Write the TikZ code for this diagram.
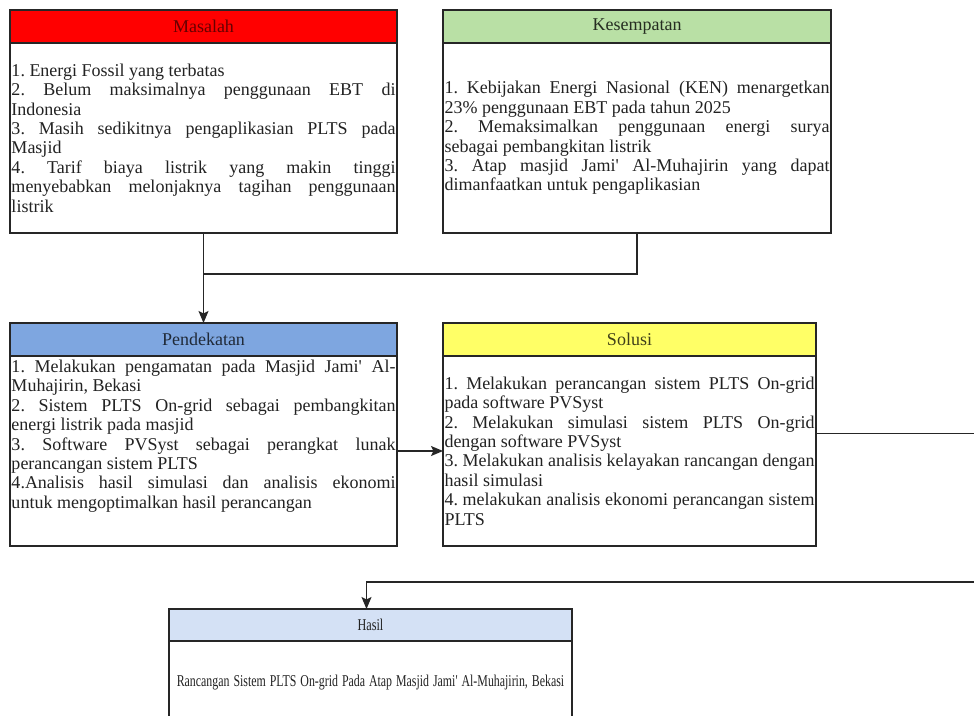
\documentclass[tikz,border=0pt]{standalone}
\usepackage{graphicx}
\usepackage{fontspec}
\setmainfont{Liberation Serif}
\usetikzlibrary{arrows.meta,positioning}
\definecolor{frame}{HTML}{262626}
\definecolor{bodyText}{HTML}{222222}
\definecolor{masalahFill}{HTML}{FF0000}
\definecolor{kesempatanFill}{HTML}{B9E0A5}
\definecolor{pendekatanFill}{HTML}{7EA6E0}
\definecolor{solusiFill}{HTML}{FFFF66}
\definecolor{hasilFill}{HTML}{D4E1F5}
\tolerance=10000
\hyphenpenalty=10000
\frenchspacing

\begin{document}
\begin{tikzpicture}[
x=1pt,y=1pt,
line width=1.3pt,
head/.style={draw=frame,outer sep=0pt,minimum height=33pt,font=\fontsize{18}{20}\selectfont},
body/.style={draw=frame,fill=white,outer sep=0pt,inner xsep=1.5pt,inner ysep=0pt,align=justify,minimum height=190pt,text=bodyText,font=\fontsize{18}{19.4}\selectfont},
flow/.style={-{Stealth[length=12pt,width=10pt,inset=2.5pt]},draw=frame},
link/.style={draw=frame}
]
\clip (0,0) rectangle (974,-715);
\fill[white] (0,0) rectangle (974,-715);

% upper row
\node[head,fill=masalahFill,text=masalahFill!40!black,minimum width=387pt,anchor=north west] (masalahHead) at (10,-10) {Masalah};
\node[body,text width=384pt,below=0pt of masalahHead] (masalah) {1. Energi Fossil yang terbatas\\
2. Belum maksimalnya penggunaan EBT di\linebreak Indonesia\\
3. Masih sedikitnya pengaplikasian PLTS pada\linebreak Masjid\\
4. Tarif biaya listrik yang makin tinggi\linebreak menyebabkan melonjaknya tagihan penggunaan\linebreak listrik};

\node[head,fill=kesempatanFill,text=kesempatanFill!20!black,minimum width=388pt,anchor=north west] (kesempatanHead) at (443,-10) {Kesempatan};
\node[body,text width=385pt,below=0pt of kesempatanHead] (kesempatan) {1. Kebijakan Energi Nasional (KEN) menargetkan\linebreak 23\% penggunaan EBT pada tahun 2025\\
2. Memaksimalkan penggunaan energi surya\linebreak sebagai pembangkitan listrik\\
3. Atap masjid Jami\textquotesingle{} Al-Muhajirin yang dapat\linebreak dimanfaatkan untuk pengaplikasian};

% middle row
\node[head,fill=pendekatanFill,text=pendekatanFill!25!black,minimum width=387pt,anchor=north west] (pendekatanHead) at (10,-323) {Pendekatan};
\node[body,text width=384pt,below=0pt of pendekatanHead] (pendekatan) {1. Melakukan pengamatan pada Masjid Jami\textquotesingle{} Al-\linebreak Muhajirin, Bekasi\\
2. Sistem PLTS On-grid sebagai pembangkitan\linebreak energi listrik pada masjid\\
3. Software PVSyst sebagai perangkat lunak\linebreak perancangan sistem PLTS\\
4.Analisis hasil simulasi dan analisis ekonomi\linebreak untuk mengoptimalkan hasil perancangan\par\kern30pt};

\node[head,fill=solusiFill,text=solusiFill!25!black,minimum width=373pt,anchor=north west] (solusiHead) at (443,-323) {Solusi};
\node[body,text width=370pt,below=0pt of solusiHead] (solusi) {1. Melakukan perancangan sistem PLTS On-grid\linebreak pada software PVSyst\\
2. Melakukan simulasi sistem PLTS On-grid\linebreak dengan software PVSyst\\
3. Melakukan analisis kelayakan rancangan dengan\linebreak hasil simulasi\\
4. melakukan analisis ekonomi perancangan sistem\linebreak PLTS};

% result
\node[head,fill=hasilFill,text=bodyText,minimum width=403pt,minimum height=32pt,font=\fontsize{16.5}{18}\selectfont,anchor=north west] (hasilHead) at (169,-609) {\scalebox{0.74}[1]{Hasil}};
\node[body,text width=400pt,align=center,minimum height=84pt,font=\fontsize{16.5}{18}\selectfont,below=0pt of hasilHead] (hasil) {\scalebox{0.72}[1]{Rancangan Sistem PLTS On-grid Pada Atap Masjid Jami\textquotesingle{} Al-Muhajirin, Bekasi}};

% connectors
\coordinate (junction) at (203.5,-274);
\coordinate (edgeTop) at (990,-433.5);
\coordinate (edgeBottom) at (990,-582);
\draw[link] (kesempatan.south) |- (junction);
\draw[flow] (masalah.south) -- (pendekatanHead.north);
\draw[flow] (pendekatan.east) -- (solusi.west);
\draw[flow] ([yshift=17.5pt]solusi.east) -- (edgeTop) -- (edgeBottom) -| ([xshift=-4pt]hasilHead.north);
\end{tikzpicture}
\end{document}
